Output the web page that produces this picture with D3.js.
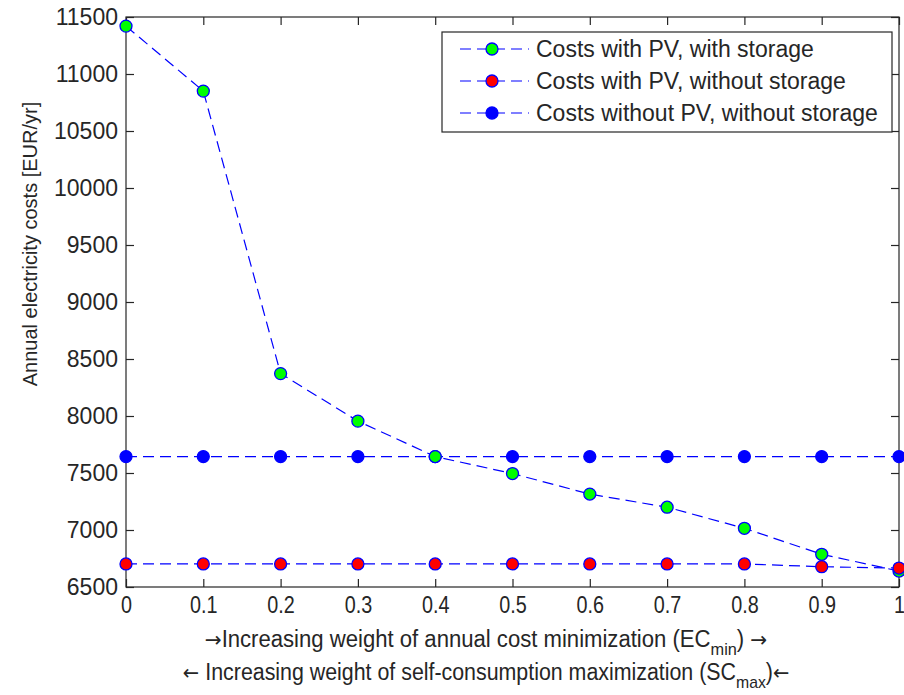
<!DOCTYPE html>
<html>
<head>
<meta charset="utf-8">
<script src="https://cdn.jsdelivr.net/npm/d3@7"></script>
<style>
  html, body { margin: 0; padding: 0; background: #fff; }
  svg { display: block; }
  text { font-family: "Liberation Sans", Arial, sans-serif; fill: #262626; }
</style>
</head>
<body>
<svg id="chart" width="904" height="695"></svg>
<script>
// ---- data ----
const weights = [0, 0.1, 0.2, 0.3, 0.4, 0.5, 0.6, 0.7, 0.8, 0.9, 1];
const costsPvStorage = [11420, 10850, 8372, 7955, 7644, 7495, 7315, 7200, 7015, 6787, 6640];
const costsPvNoStorage = [6702, 6702, 6702, 6702, 6702, 6702, 6702, 6702, 6702, 6678, 6666];
const costsNoPv = [7644, 7644, 7644, 7644, 7644, 7644, 7644, 7644, 7644, 7644, 7644];
const seriesNames = ["Costs with PV, with storage", "Costs with PV, without storage", "Costs without PV, without storage"];
const seriesFill = ["#00ff00", "#ff0000", "#0000ff"];
const xTicks = [0, 0.1, 0.2, 0.3, 0.4, 0.5, 0.6, 0.7, 0.8, 0.9, 1];
const yTicks = [6500, 7000, 7500, 8000, 8500, 9000, 9500, 10000, 10500, 11000, 11500];
const yLabel = "Annual electricity costs [EUR/yr]";

// ---- layout ----
const svg = d3.select("#chart");
const L = 126, R = 899, T = 17, B = 587;
const x = d3.scaleLinear().domain([0, 1]).range([L, R]);
const y = d3.scaleLinear().domain([6500, 11500]).range([B, T]);
const tickLen = 8;
const FS = 23;

// plot box
svg.append("rect").attr("x", L).attr("y", T).attr("width", R - L).attr("height", B - T)
  .attr("fill", "#fff").attr("stroke", "#262626").attr("stroke-width", 1.2);

// axes
const fmtX = d => d === 0 ? "0" : d === 1 ? "1" : d3.format(".1f")(d);
const xAxisB = svg.append("g").attr("transform", `translate(0,${B})`)
  .call(d3.axisBottom(x).tickValues(xTicks).tickSize(-tickLen).tickPadding(10).tickFormat(fmtX));
const xAxisT = svg.append("g").attr("transform", `translate(0,${T})`)
  .call(d3.axisTop(x).tickValues(xTicks).tickSize(-tickLen).tickFormat(""));
const yAxisL = svg.append("g").attr("transform", `translate(${L},0)`)
  .call(d3.axisLeft(y).tickValues(yTicks).tickSize(-tickLen).tickPadding(8).tickFormat(d3.format("d")));
const yAxisR = svg.append("g").attr("transform", `translate(${R},0)`)
  .call(d3.axisRight(y).tickValues(yTicks).tickSize(-tickLen).tickFormat(""));
[xAxisB, xAxisT, yAxisL, yAxisR].forEach(g => {
  g.select(".domain").remove();
  g.selectAll("line").attr("stroke", "#262626").attr("stroke-width", 1.2);
  g.selectAll("text").attr("font-size", FS).attr("fill", "#262626")
    .style("font-family", '"Liberation Sans", Arial, sans-serif');
});
xAxisB.selectAll("text").attr("dy", "0.71em").attr("transform", "scale(0.86,1)");

// series
const series = [costsPvStorage, costsPvNoStorage, costsNoPv];
const line = d3.line().x((d, i) => x(weights[i])).y(d => y(d));
[2, 0, 1].forEach(si => {
  svg.append("path").datum(series[si]).attr("d", line)
    .attr("fill", "none").attr("stroke", "#0000ff").attr("stroke-width", 1.2)
    .attr("stroke-dasharray", "11,6");
});
[2, 0, 1].forEach(si => {
  svg.append("g").selectAll("circle").data(series[si]).join("circle")
    .attr("cx", (d, i) => x(weights[i])).attr("cy", d => y(d)).attr("r", 6)
    .attr("fill", seriesFill[si]).attr("stroke", "#0000ff").attr("stroke-width", 1.3);
});

// legend
const lg = svg.append("g");
lg.append("rect").attr("x", 442).attr("y", 32).attr("width", 450).attr("height", 100)
  .attr("fill", "#fff").attr("stroke", "#262626").attr("stroke-width", 1.2);
const rowY = [49, 81, 113];
seriesNames.forEach((name, i) => {
  lg.append("line").attr("x1", 460).attr("x2", 529).attr("y1", rowY[i]).attr("y2", rowY[i])
    .attr("stroke", "#0000ff").attr("stroke-width", 1.2).attr("stroke-dasharray", "11,6");
  lg.append("circle").attr("cx", 492).attr("cy", rowY[i]).attr("r", 6)
    .attr("fill", seriesFill[i]).attr("stroke", "#0000ff").attr("stroke-width", 1.3);
  lg.append("text").attr("x", 536).attr("y", rowY[i]).attr("dy", "0.35em")
    .attr("font-size", FS).text(name);
});

// y label
svg.append("text").attr("transform", `translate(37,244) rotate(-90)`)
  .attr("text-anchor", "middle").attr("font-size", 20).text(yLabel);

// x labels (two lines with subscripts), condensed to match the reference widths
function xLabelLine(baseY, arrowPre, pre, sub, post, arrowPost, targetW) {
  const cx = 486;
  const g = svg.append("g");
  const t = g.append("text").attr("x", 0).attr("y", 0).attr("text-anchor", "middle").attr("font-size", FS);
  t.append("tspan").style("font-family", '"DejaVu Sans", sans-serif').attr("font-size", 21).text(arrowPre);
  t.append("tspan").text(pre);
  t.append("tspan").attr("dy", 8).attr("font-size", 17).text(sub);
  t.append("tspan").attr("dy", -8).text(post);
  t.append("tspan").style("font-family", '"DejaVu Sans", sans-serif').attr("font-size", 21).text(arrowPost);
  const w = t.node().getBBox().width;
  g.attr("transform", `translate(${cx},${baseY}) scale(${targetW / w},1)`);
}
xLabelLine(647, "\u2192", "Increasing weight of annual cost minimization (EC", "min", ") ", "\u2192", 563);
xLabelLine(680, "\u2190 ", "Increasing weight of self-consumption maximization (SC", "max", ")", "\u2190", 607);
</script>
</body>
</html>
